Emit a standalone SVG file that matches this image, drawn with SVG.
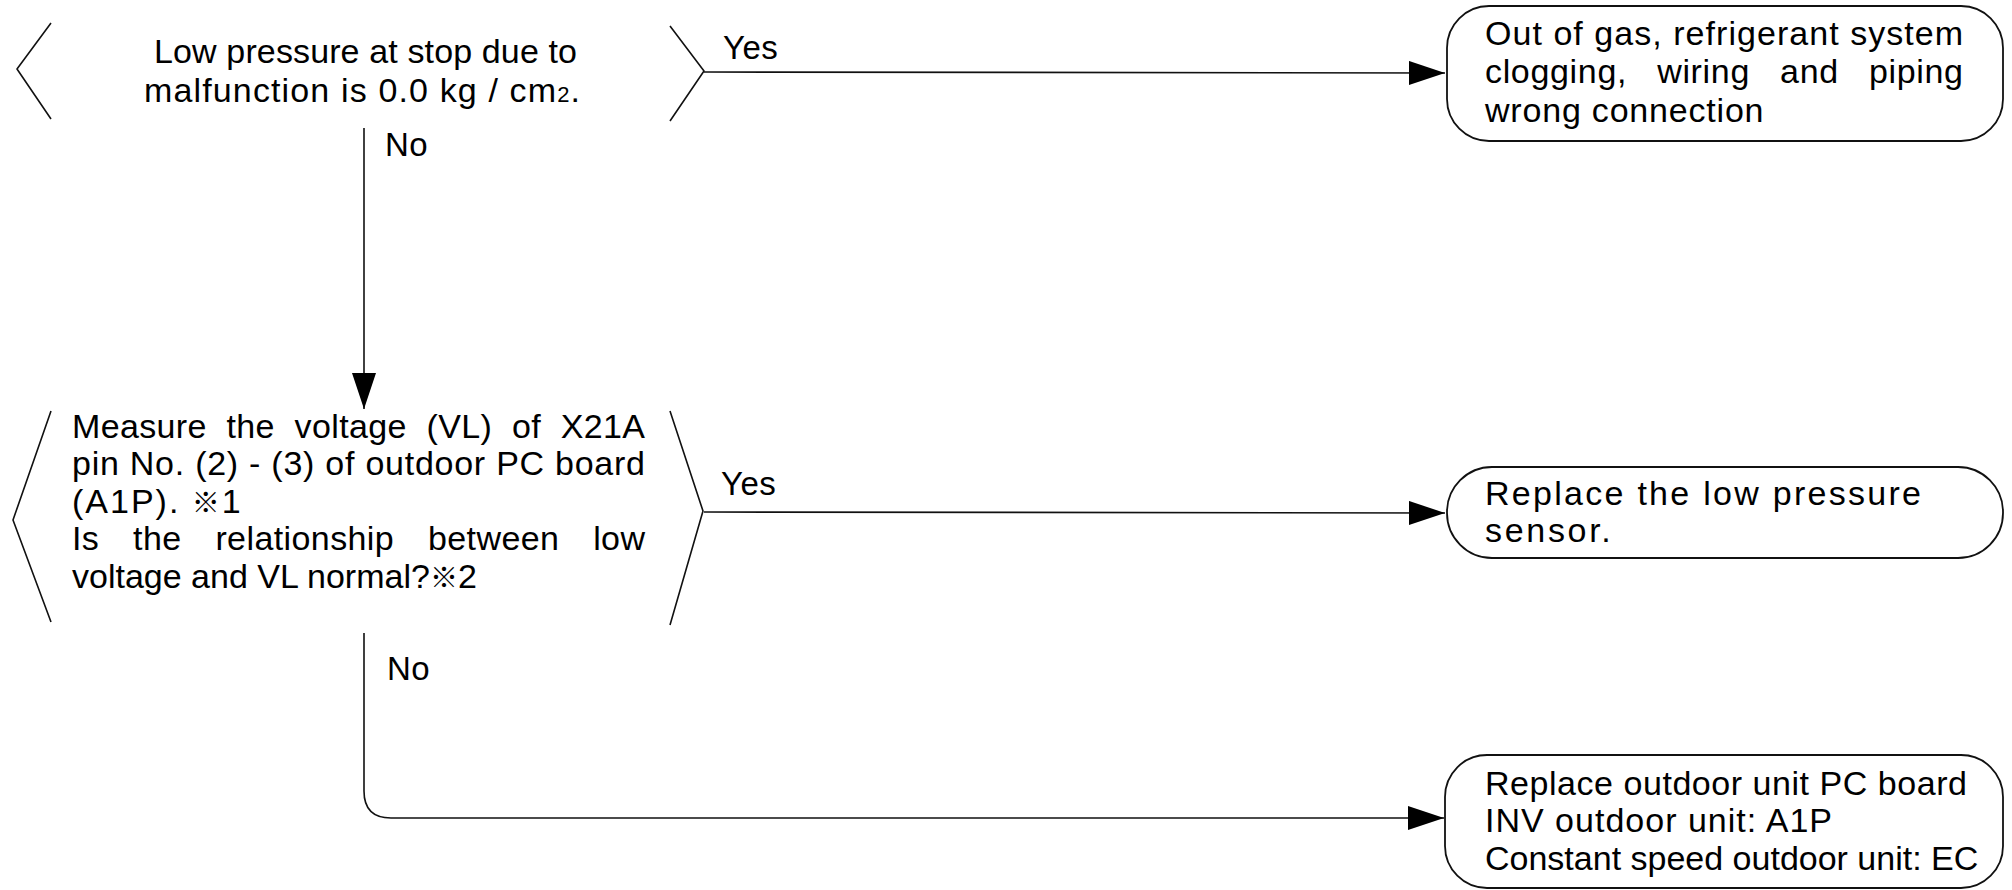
<svg xmlns="http://www.w3.org/2000/svg" width="2012" height="890" viewBox="0 0 2012 890">
<style>
  .bg { fill: #ffffff; }
  .shape { fill: none; stroke: #111; stroke-width: 1.6; stroke-linejoin: round; }
  .box { fill: #ffffff; stroke: #111; stroke-width: 1.8; }
  .conn { fill: none; stroke: #111; stroke-width: 1.6; }
  text { font-family: "Liberation Sans", "Noto Sans CJK JP", sans-serif; font-size: 34px; fill: #000; }
  .lbl { font-size: 33px; letter-spacing: 0.5px; }
  .wide { letter-spacing: 2.7px; }
  .ref { font-size: 28px; }
</style>
<defs>
  <marker id="arrow" markerWidth="36" markerHeight="24" refX="36" refY="12" orient="auto" markerUnits="userSpaceOnUse">
    <path d="M0,0 L36,12 L0,24 Z" fill="#000"/>
  </marker>
</defs>
<rect class="bg" x="0" y="0" width="2012" height="890"/>

<g id="connectors">
  <path class="conn" d="M704,72 L1445,73" marker-end="url(#arrow)"/>
  <path class="conn" d="M364,128 L364,409" marker-end="url(#arrow)"/>
  <path class="conn" d="M704,512 L1445,513" marker-end="url(#arrow)"/>
  <path class="conn" d="M364,633 L364,791 Q364,818 391,818 L1444,818" marker-end="url(#arrow)"/>
  <text class="lbl" x="723" y="59">Yes</text>
  <text class="lbl" x="385" y="156">No</text>
  <text class="lbl" x="721" y="495">Yes</text>
  <text class="lbl" x="387" y="680">No</text>
</g>

<g id="decision1">
  <path class="shape" d="M51,23 L17,69 L51,119"/>
  <path class="shape" d="M670,26 L704,71 L670,121"/>
  <text x="154" y="63" textLength="423" lengthAdjust="spacing">Low pressure at stop due to</text>
  <text x="144" y="102" textLength="436" lengthAdjust="spacing">malfunction is 0.0 kg / cm<tspan font-size="22">2</tspan>.</text>
</g>

<g id="result1">
  <rect class="box" x="1447" y="6" width="556" height="135" rx="42" ry="42"/>
  <text x="1485" y="45" textLength="478" lengthAdjust="spacing">Out of gas, refrigerant system</text>
  <text x="1485" y="83" textLength="478" lengthAdjust="spacing" word-spacing="20">clogging, wiring and piping</text>
  <text x="1485" y="122" letter-spacing="0.8">wrong connection</text>
</g>

<g id="decision2">
  <path class="shape" d="M51,411 L13,520 L51,622"/>
  <path class="shape" d="M670,411 L703,511 L670,625"/>
  <text x="72" y="438" textLength="573" lengthAdjust="spacing" word-spacing="10">Measure the voltage (VL) of X21A</text>
  <text x="72" y="475" textLength="573" lengthAdjust="spacing">pin No. (2) - (3) of outdoor PC board</text>
  <text x="72" y="513" letter-spacing="2">(A1P). <tspan class="ref">※</tspan>1</text>
  <text x="72" y="550" textLength="573" lengthAdjust="spacing" word-spacing="24">Is the relationship between low</text>
  <text x="72" y="588" font-size="32">voltage and VL normal?<tspan class="ref">※</tspan>2</text>
</g>

<g id="result2">
  <rect class="box" x="1447" y="467" width="556" height="91" rx="45" ry="45"/>
  <text x="1485" y="505" textLength="436" lengthAdjust="spacing">Replace the low pressure</text>
  <text class="wide" x="1485" y="542">sensor.</text>
</g>

<g id="result3">
  <rect class="box" x="1445" y="755" width="558" height="133" rx="42" ry="42"/>
  <text x="1485" y="795" textLength="482" lengthAdjust="spacing">Replace outdoor unit PC board</text>
  <text x="1485" y="832" textLength="347" lengthAdjust="spacing">INV outdoor unit: A1P</text>
  <text x="1485" y="870" font-size="33">Constant speed outdoor unit: EC</text>
</g>
</svg>
